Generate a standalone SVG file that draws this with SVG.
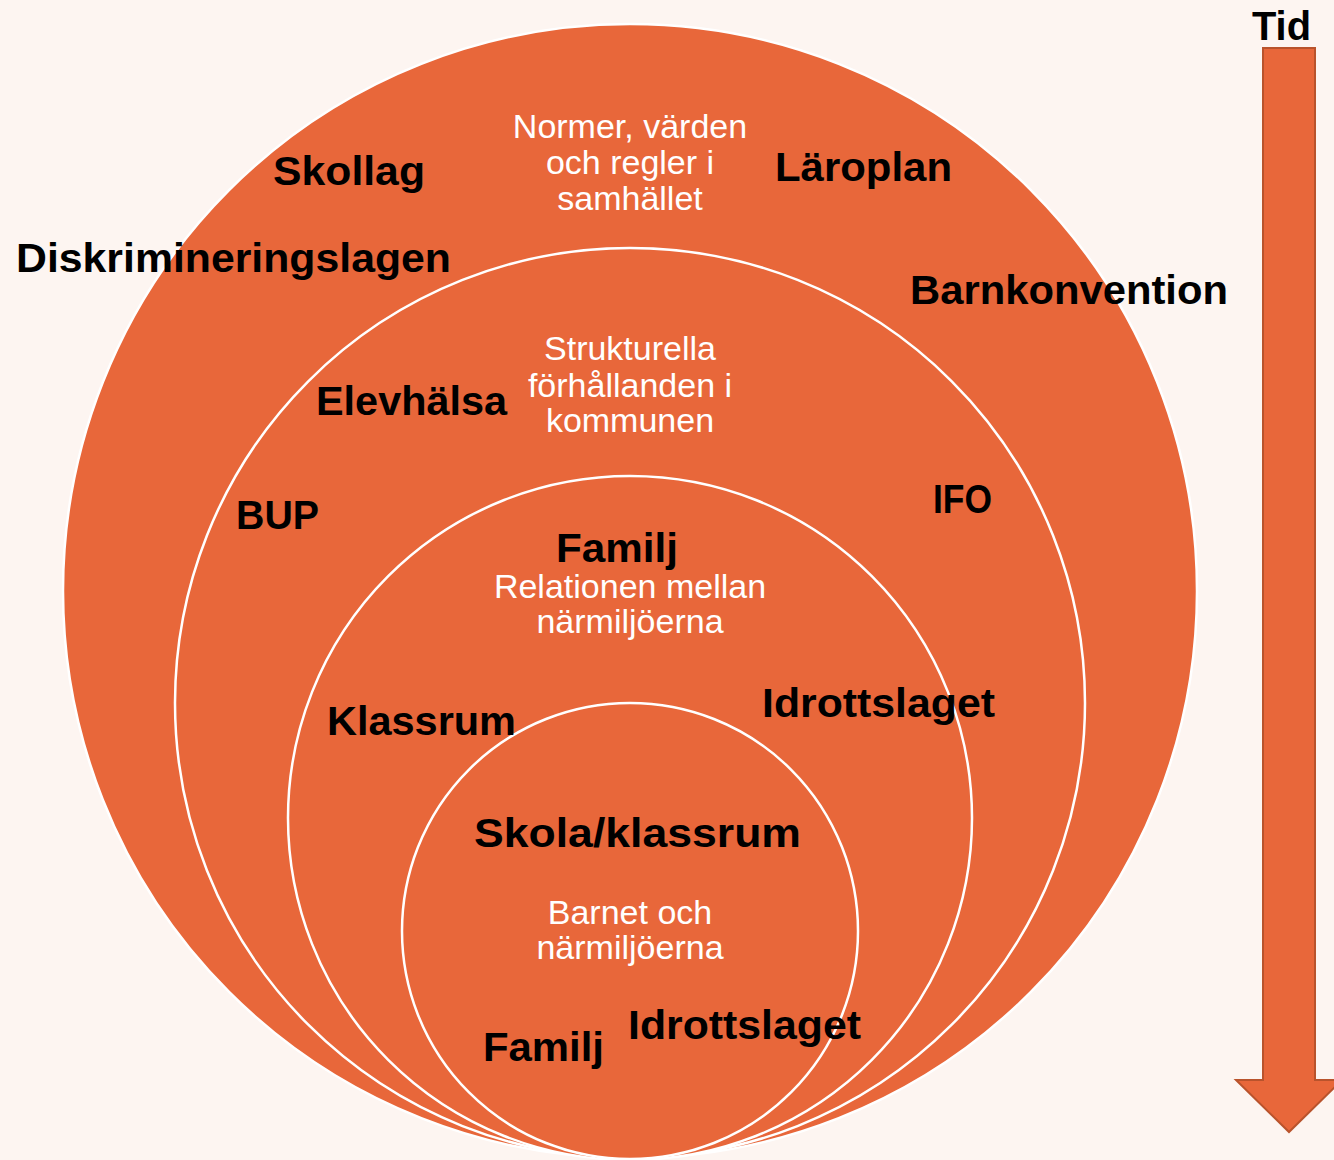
<svg xmlns="http://www.w3.org/2000/svg" width="1334" height="1160" viewBox="0 0 1334 1160">
<style>
.ring{fill:#E8673A;stroke:#FFFFFF;stroke-width:2.5}
.lbl{font-family:"Liberation Sans",Arial,sans-serif;font-weight:bold;font-size:41px;fill:#000000}
.wt{font-family:"Liberation Sans",Arial,sans-serif;font-size:34px;fill:#FFFFFF;text-anchor:middle}
.arrow{fill:#E8673A;stroke:#B9532C;stroke-width:2}
</style>
<rect width="1334" height="1160" fill="#FDF5F1"/>
<g id="ring-samhalle"><circle class="ring" cx="630" cy="591" r="567"/></g>
<g id="ring-kommun"><circle class="ring" cx="630" cy="703" r="455"/></g>
<g id="ring-relation"><circle class="ring" cx="630" cy="818" r="342"/></g>
<g id="ring-barnet"><circle class="ring" cx="630" cy="931" r="228"/></g>

<g id="txt-normer"><text class="wt"><tspan x="630" y="138">Normer, värden</tspan><tspan x="630" y="174">och regler i</tspan><tspan x="630" y="210">samhället</tspan></text></g>
<g id="txt-strukturella"><text class="wt"><tspan x="630" y="360">Strukturella</tspan><tspan x="630" y="397">förhållanden i</tspan><tspan x="630" y="432">kommunen</tspan></text></g>
<g id="txt-relationen"><text class="wt"><tspan x="630" y="598">Relationen mellan</tspan><tspan x="630" y="633">närmiljöerna</tspan></text></g>
<g id="txt-barnet"><text class="wt"><tspan x="630" y="924">Barnet och</tspan><tspan x="630" y="959">närmiljöerna</tspan></text></g>

<g id="lbl-skollag"><text class="lbl" x="273" y="185" textLength="152" lengthAdjust="spacingAndGlyphs">Skollag</text></g>
<g id="lbl-laroplan"><text class="lbl" x="775" y="181" textLength="177" lengthAdjust="spacingAndGlyphs">Läroplan</text></g>
<g id="lbl-diskriminering"><text class="lbl" x="16" y="272" textLength="435" lengthAdjust="spacingAndGlyphs">Diskrimineringslagen</text></g>
<g id="lbl-barnkonvention"><text class="lbl" x="910" y="304" textLength="318" lengthAdjust="spacingAndGlyphs">Barnkonvention</text></g>
<g id="lbl-elevhalsa"><text class="lbl" x="316" y="415" textLength="191" lengthAdjust="spacingAndGlyphs">Elevhälsa</text></g>
<g id="lbl-bup"><text class="lbl" x="236" y="529" textLength="83" lengthAdjust="spacingAndGlyphs">BUP</text></g>
<g id="lbl-ifo"><text class="lbl" x="933" y="513" textLength="59" lengthAdjust="spacingAndGlyphs">IFO</text></g>
<g id="lbl-familj-1"><text class="lbl" x="556" y="562" textLength="122" lengthAdjust="spacingAndGlyphs">Familj</text></g>
<g id="lbl-klassrum"><text class="lbl" x="327" y="735" textLength="189" lengthAdjust="spacingAndGlyphs">Klassrum</text></g>
<g id="lbl-idrottslaget-1"><text class="lbl" x="762" y="717" textLength="233" lengthAdjust="spacingAndGlyphs">Idrottslaget</text></g>
<g id="lbl-skola"><text class="lbl" x="474" y="847" textLength="327" lengthAdjust="spacingAndGlyphs">Skola/klassrum</text></g>
<g id="lbl-familj-2"><text class="lbl" x="483" y="1061" textLength="121" lengthAdjust="spacingAndGlyphs">Familj</text></g>
<g id="lbl-idrottslaget-2"><text class="lbl" x="628" y="1039" textLength="233" lengthAdjust="spacingAndGlyphs">Idrottslaget</text></g>

<g id="tid">
<path class="arrow" d="M1263,48 L1315,48 L1315,1080 L1342,1080 L1289,1132 L1236,1080 L1263,1080 Z"/>
<text class="lbl" x="1252" y="40" textLength="59" lengthAdjust="spacingAndGlyphs">Tid</text>
</g>
<g id="connectors"/>
</svg>
